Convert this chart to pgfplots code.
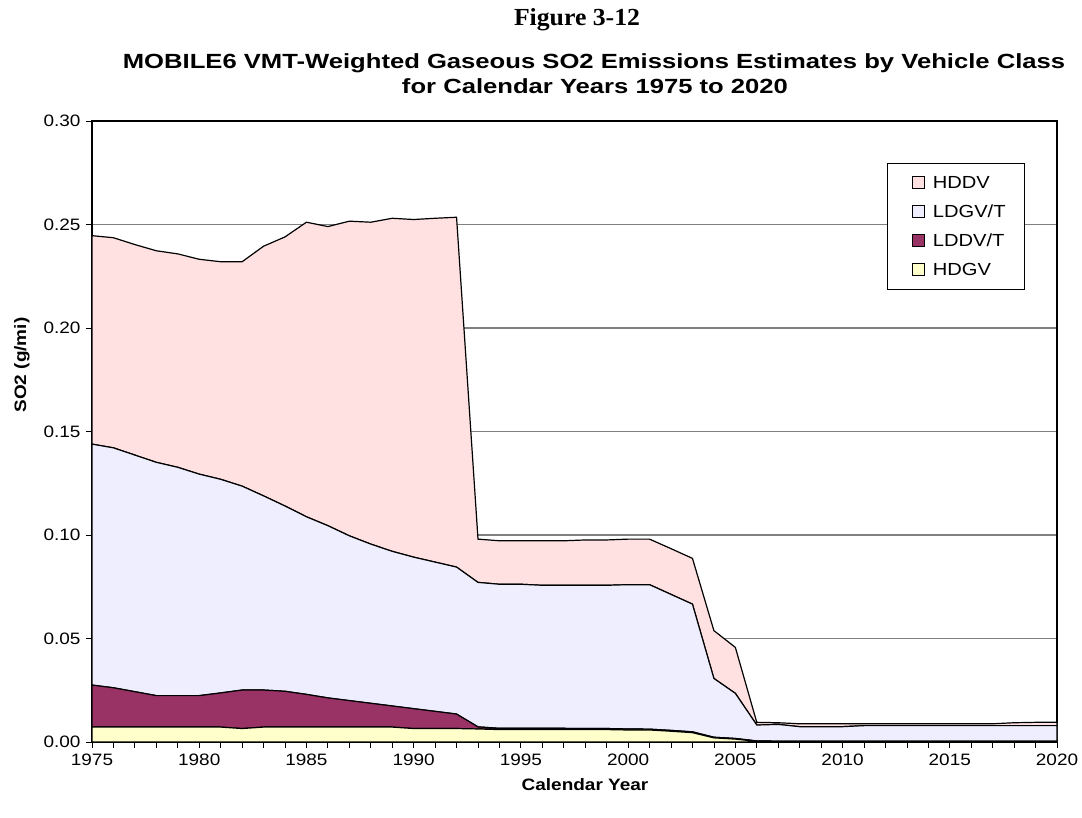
\documentclass[border=0pt]{standalone}
\usepackage{fontspec}
\setmainfont{Liberation Sans}[FakeStretch=1.15]
\newfontfamily\titlefont{Liberation Sans}[FakeStretch=1.25]
\newfontfamily\timesfont{Liberation Serif}[FakeStretch=1.05]
\usepackage{pgfplots}
\usepackage{pgfplotstable}
\pgfplotsset{compat=1.18}
\definecolor{cHDDV}{HTML}{FFE1E1}
\definecolor{cLDGV}{HTML}{EEEEFF}
\definecolor{cLDDV}{HTML}{993366}
\definecolor{cHDGV}{HTML}{FFFFCC}
\definecolor{gridc}{HTML}{808080}
\pgfplotstableread{
year hdgv lddv ldgv hddv
1975 0.0072 0.0203 0.1164 0.1007
1976 0.0072 0.0190 0.1159 0.1015
1977 0.0072 0.0171 0.1143 0.1017
1978 0.0072 0.0152 0.1127 0.1022
1979 0.0072 0.0152 0.1103 0.1031
1980 0.0072 0.0152 0.1070 0.1038
1981 0.0072 0.0165 0.1032 0.1051
1982 0.0065 0.0186 0.0985 0.1084
1983 0.0072 0.0179 0.0938 0.1206
1984 0.0072 0.0173 0.0895 0.1300
1985 0.0072 0.0158 0.0858 0.1423
1986 0.0072 0.0141 0.0832 0.1445
1987 0.0072 0.0128 0.0796 0.1520
1988 0.0072 0.0115 0.0769 0.1555
1989 0.0072 0.0102 0.0747 0.1609
1990 0.0065 0.0096 0.0732 0.1631
1991 0.0065 0.0083 0.0721 0.1661
1992 0.0065 0.0070 0.0710 0.1690
1993 0.0063 0.0010 0.0698 0.0209
1994 0.0060 0.0006 0.0696 0.0210
1995 0.0060 0.0006 0.0696 0.0210
1996 0.0060 0.0006 0.0691 0.0215
1997 0.0060 0.0006 0.0691 0.0215
1998 0.0060 0.0005 0.0692 0.0219
1999 0.0060 0.0005 0.0692 0.0219
2000 0.0058 0.0005 0.0697 0.0220
2001 0.0058 0.0004 0.0698 0.0220
2002 0.0052 0.0004 0.0657 0.0221
2003 0.0045 0.0004 0.0617 0.0221
2004 0.0020 0.0003 0.0284 0.0231
2005 0.0014 0.0003 0.0218 0.0222
2006 0.0003 0.0002 0.0077 0.0013
2007 0.0002 0.0002 0.0081 0.0008
2008 0.0002 0.0002 0.0070 0.0014
2009 0.0002 0.0002 0.0070 0.0014
2010 0.0002 0.0002 0.0070 0.0014
2011 0.0002 0.0002 0.0075 0.0009
2012 0.0002 0.0002 0.0075 0.0009
2013 0.0002 0.0002 0.0075 0.0009
2014 0.0002 0.0002 0.0075 0.0009
2015 0.0002 0.0002 0.0075 0.0009
2016 0.0002 0.0002 0.0075 0.0009
2017 0.0002 0.0002 0.0075 0.0009
2018 0.0002 0.0002 0.0075 0.0014
2019 0.0002 0.0002 0.0075 0.0016
2020 0.0002 0.0002 0.0075 0.0016
}\datatable
\begin{document}
\begin{tikzpicture}[x=1bp,y=1bp]
\path[use as bounding box] (0,0) rectangle (1082,818);
\begin{axis}[
  at={(92bp,76bp)}, anchor=south west,
  scale only axis, width=965bp, height=621bp,
  xmin=1975, xmax=2020, ymin=0, ymax=0.30,
  stack plots=y,
  xtick={1975,1980,...,2020},
  minor x tick num=4,
  ytick={0,0.05,...,0.31},
  tick align=outside,
  xtick pos=bottom, ytick pos=left,
  major tick length=6bp, minor tick length=6bp,
  tick style={black, line width=0.8bp},
  ymajorgrids,
  grid style={gridc, line width=1.1bp},
  axis line style={black, line width=1.1bp},
  every axis plot/.append style={draw=black, line width=1.2bp},
  /pgf/number format/assume math mode=true,
  xticklabel style={/pgf/number format/1000 sep={}, font=\fontsize{16.5bp}{19bp}\selectfont, yshift=-2bp},
  yticklabel style={/pgf/number format/fixed, /pgf/number format/fixed zerofill, /pgf/number format/precision=2, font=\fontsize{16.5bp}{19bp}\selectfont, xshift=-2bp},
  legend style={at={(0.9668,0.9329)}, anchor=north east, draw=black, line width=0.8bp,
    font=\fontsize{17.5bp}{20bp}\selectfont, row sep=11bp, inner xsep=17bp, inner ysep=11bp,
    cells={anchor=west}},
  reverse legend,
  legend image code/.code={\path (0bp,0bp); \draw[#1, line width=0.7bp] (7bp,-6bp) rectangle (19bp,6bp); \path (25bp,0bp);},
]
\addplot[fill=cHDGV] table[x=year,y=hdgv] {\datatable} \closedcycle;
\addlegendentry{HDGV}
\addplot[fill=cLDDV] table[x=year,y=lddv] {\datatable} \closedcycle;
\addlegendentry{LDDV/T}
\addplot[fill=cLDGV] table[x=year,y=ldgv] {\datatable} \closedcycle;
\addlegendentry{LDGV/T}
\addplot[fill=cHDDV] table[x=year,y=hddv] {\datatable} \closedcycle;
\addlegendentry{HDDV}
\end{axis}
\node[font=\timesfont\bfseries\fontsize{24.5bp}{28bp}\selectfont] at (577,798) {Figure 3-12};
\node[font=\titlefont\bfseries\fontsize{20.5bp}{24bp}\selectfont] at (594,755) {MOBILE6 VMT-Weighted Gaseous SO2 Emissions Estimates by Vehicle Class};
\node[font=\titlefont\bfseries\fontsize{20.5bp}{24bp}\selectfont] at (595,732) {for Calendar Years 1975 to 2020};
\node[font=\bfseries\fontsize{16.5bp}{19bp}\selectfont, rotate=90] at (22,453) {SO2 (g/mi)};
\node[font=\bfseries\fontsize{16.5bp}{19bp}\selectfont] at (585,33) {Calendar Year};
\end{tikzpicture}
\end{document}
